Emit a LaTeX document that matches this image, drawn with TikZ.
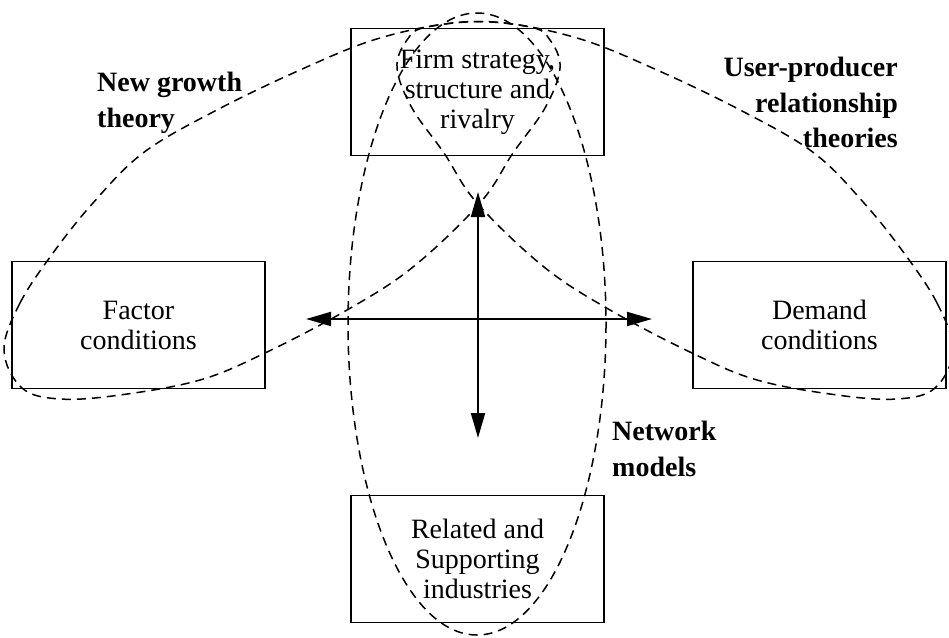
\documentclass[tikz,border=0pt]{standalone}
\usepackage{fontspec}
\setmainfont{Liberation Serif}
\usetikzlibrary{arrows.meta}
% outline of the "new growth" region; the "user-producer" region is its mirror image
\def\growthoutline{(4,350) (20,303) (53,253) (93,203) (143,153) (213,112)
  (300,70) (380,38) (463,22) (530,27) (550,40) (560,68) (545,108) (513,153)
  (480,203) (413,267) (347,310) (265,353) (200,380) (120,395) (60,399) (22,388)}
\begin{document}
\begin{tikzpicture}[x=1pt,y=-1pt,
  factor/.style={draw, line width=1.8pt, minimum width=253pt, minimum height=127pt,
    inner sep=0pt, align=center, font=\fontsize{28}{30}\selectfont},
  theory/.style={inner sep=0pt, font=\fontsize{28}{35.5}\selectfont\bfseries},
  region/.style={dash pattern=on 9pt off 6pt, line width=1.5pt},
  force/.style={line width=2pt, -{Triangle[length=25pt,width=14pt]}}]
\useasboundingbox (0,0) rectangle (949,637);

% the four determinants
\node[factor] (firm)    at (477.5,92)  {Firm strategy,\\structure and\\rivalry};
\node[factor] (factor)  at (138.5,325) {Factor\\conditions};
\node[factor] (demand)  at (819.5,325) {Demand\\conditions};
\node[factor] (related) at (477.5,559) {Related and\\Supporting\\industries};

% central cross of arrows
\coordinate (hub)   at (478,319);
\coordinate (north) at (478,192);
\coordinate (south) at (478,438);
\coordinate (west)  at (306,319);
\coordinate (east)  at (652,319);
\draw[force] (hub) -- (north);
\draw[force] (hub) -- (south);
\draw[force] (hub) -- (west);
\draw[force] (hub) -- (east);

% theory regions
\draw[region] plot[smooth cycle, tension=0.6] coordinates {\growthoutline};
\draw[region, xshift=957pt, xscale=-1] plot[smooth cycle, tension=0.6] coordinates {\growthoutline};
\draw[region] (477,324) ellipse [x radius=129, y radius=311];

% theory labels
\node[theory, anchor=north west, align=left]  (growth)  at (97,72)  {New growth\\theory};
\node[theory, anchor=north east, align=right] (userpro) at (898,57) {User-producer\\relationship\\theories};
\node[theory, anchor=north west, align=left]  (network) at (612,421) {Network\\models};
\end{tikzpicture}
\end{document}
